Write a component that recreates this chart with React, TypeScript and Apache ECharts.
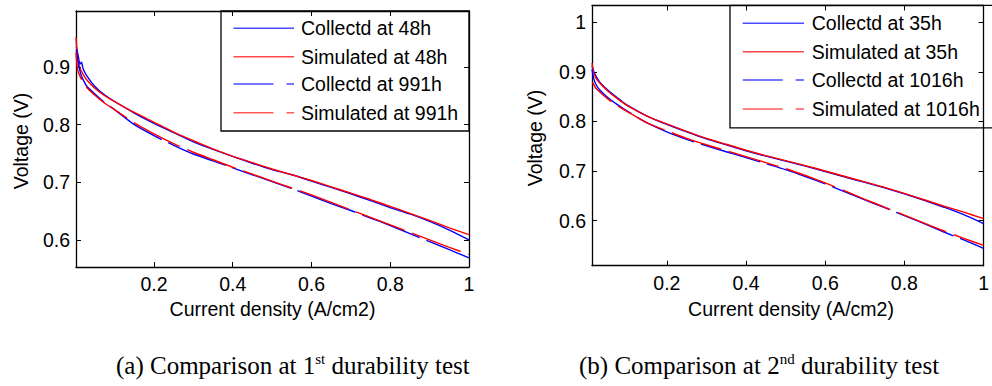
import { useEffect, useRef } from "react";
import * as echarts from "echarts";

// ---------- data ----------
const xTicks = [0.2, 0.4, 0.6, 0.8, 1];
const yTicksA = [0.6, 0.7, 0.8, 0.9];
const yTicksB = [0.6, 0.7, 0.8, 0.9, 1];

const namesA = ["Collectd at 48h", "Simulated at 48h", "Collectd at 991h", "Simulated at 991h"];
const namesB = ["Collectd at 35h", "Simulated at 35h", "Collectd at 1016h", "Simulated at 1016h"];

const captionA = ["(a) Comparison at 1", "st", " durability test"];
const captionB = ["(b) Comparison at 2", "nd", " durability test"];
const xName = "Current density (A/cm2)";
const yName = "Voltage (V)";

// test 1 (left)
const collected48 = [
  [0.003, 0.935], [0.008, 0.918], [0.012, 0.905], [0.016, 0.908], [0.02, 0.897], [0.03, 0.884],
  [0.05, 0.866], [0.075, 0.851], [0.1, 0.84], [0.15, 0.82], [0.2, 0.802], [0.25, 0.786],
  [0.3, 0.77], [0.35, 0.757], [0.4, 0.745], [0.45, 0.733], [0.5, 0.722], [0.55, 0.713],
  [0.6, 0.702], [0.65, 0.691], [0.7, 0.68], [0.75, 0.668], [0.8, 0.656], [0.85, 0.645],
  [0.9, 0.632], [0.95, 0.617], [1, 0.6],
];
const simulated48 = [
  [0.002, 0.952], [0.006, 0.915], [0.012, 0.898], [0.02, 0.887], [0.03, 0.877], [0.05, 0.863],
  [0.075, 0.85], [0.1, 0.84], [0.15, 0.821], [0.2, 0.804], [0.25, 0.787], [0.3, 0.772],
  [0.35, 0.758], [0.4, 0.745], [0.45, 0.734], [0.5, 0.723], [0.55, 0.713], [0.6, 0.703],
  [0.65, 0.692], [0.7, 0.681], [0.75, 0.67], [0.8, 0.658], [0.85, 0.646], [0.9, 0.634],
  [0.95, 0.621], [1, 0.609],
];
const collected991 = [
  [0.003, 0.93], [0.008, 0.905], [0.014, 0.888], [0.02, 0.878], [0.03, 0.866], [0.05, 0.853],
  [0.075, 0.838], [0.1, 0.826], [0.15, 0.8], [0.2, 0.781], [0.25, 0.764], [0.3, 0.749],
  [0.35, 0.737], [0.4, 0.725], [0.45, 0.713], [0.5, 0.701], [0.55, 0.689], [0.6, 0.676],
  [0.65, 0.663], [0.7, 0.651], [0.75, 0.638], [0.8, 0.625], [0.85, 0.611], [0.9, 0.597],
  [0.95, 0.583], [1, 0.569],
];
const simulated991 = [
  [0.002, 0.925], [0.006, 0.895], [0.012, 0.884], [0.02, 0.874], [0.03, 0.864], [0.05, 0.851],
  [0.075, 0.837], [0.1, 0.826], [0.15, 0.803], [0.2, 0.784], [0.25, 0.767], [0.3, 0.752],
  [0.35, 0.739], [0.4, 0.726], [0.45, 0.714], [0.5, 0.702], [0.55, 0.69], [0.6, 0.678],
  [0.65, 0.665], [0.7, 0.652], [0.75, 0.639], [0.8, 0.626], [0.85, 0.613], [0.9, 0.6],
  [0.95, 0.587], [1, 0.575],
];

// test 2 (right)
const collected35 = [
  [0.011, 0.912], [0.015, 0.902], [0.02, 0.893], [0.03, 0.88], [0.05, 0.864], [0.075, 0.848],
  [0.1, 0.833], [0.15, 0.811], [0.2, 0.794], [0.25, 0.779], [0.3, 0.765], [0.35, 0.753],
  [0.4, 0.741], [0.45, 0.73], [0.5, 0.72], [0.55, 0.71], [0.6, 0.699], [0.65, 0.688],
  [0.7, 0.677], [0.75, 0.666], [0.8, 0.654], [0.85, 0.641], [0.9, 0.627], [0.95, 0.612],
  [1, 0.594],
];
const simulated35 = [
  [0.011, 0.918], [0.015, 0.9], [0.02, 0.889], [0.03, 0.878], [0.05, 0.862], [0.075, 0.846],
  [0.1, 0.832], [0.15, 0.811], [0.2, 0.795], [0.25, 0.78], [0.3, 0.766], [0.35, 0.754],
  [0.4, 0.742], [0.45, 0.731], [0.5, 0.721], [0.55, 0.711], [0.6, 0.7], [0.65, 0.689],
  [0.7, 0.678], [0.75, 0.667], [0.8, 0.655], [0.85, 0.642], [0.9, 0.629], [0.95, 0.617],
  [1, 0.604],
];
const collected1016 = [
  [0.011, 0.905], [0.015, 0.888], [0.02, 0.876], [0.03, 0.864], [0.05, 0.849], [0.075, 0.834],
  [0.1, 0.821], [0.15, 0.797], [0.2, 0.779], [0.25, 0.764], [0.3, 0.751], [0.35, 0.739],
  [0.4, 0.727], [0.45, 0.715], [0.5, 0.703], [0.55, 0.689], [0.6, 0.674], [0.65, 0.658],
  [0.7, 0.642], [0.75, 0.626], [0.8, 0.61], [0.85, 0.594], [0.9, 0.577], [0.95, 0.561],
  [1, 0.544],
];
const simulated1016 = [
  [0.012, 0.88], [0.02, 0.868], [0.03, 0.86], [0.05, 0.846], [0.075, 0.832], [0.1, 0.82],
  [0.15, 0.797], [0.2, 0.781], [0.25, 0.766], [0.3, 0.753], [0.35, 0.741], [0.4, 0.729],
  [0.45, 0.717], [0.5, 0.705], [0.55, 0.691], [0.6, 0.676], [0.65, 0.66], [0.7, 0.643],
  [0.75, 0.627], [0.8, 0.611], [0.85, 0.595], [0.9, 0.579], [0.95, 0.564], [1, 0.55],
];

// ---------- styles ----------
const BLUE = "#0000ff";
const RED = "#ff0000";
const SANS = '"Liberation Sans", Arial, Helvetica, sans-serif';
const SERIF = '"Liberation Serif", "Times New Roman", serif';
const FS = 19.5;

const panels = [
  {
    grid: { left: 76, top: 11, width: 393, height: 256 },
    xMin: 0.002, xMax: 1, yMin: 0.553, yMax: 0.997, yTicks: yTicksA,
    names: namesA,
    data: [collected48, simulated48, collected991, simulated991],
    legend: { x: 221, y: 11, w: 248, h: 120, lineX: 233.5, lineW: 60.5, textX: 301, rows: [28.3, 56.7, 84, 112.7] },
    caption: captionA, captionX: 116,
    yLabelX: 21, yLabelY: 141, xLabelX: 272.5,
  },
  {
    grid: { left: 592, top: 5.5, width: 398.3, height: 260.2 },
    xMin: 0.011, xMax: 1, yMin: 0.509, yMax: 1.034, yTicks: yTicksB,
    names: namesB,
    data: [collected35, simulated35, collected1016, simulated1016],
    legend: { x: 730, y: 5.3, w: 280, h: 122.5, lineX: 742.7, lineW: 61.3, textX: 811.7, rows: [23.3, 51.7, 80, 109] },
    caption: captionB, captionX: 579,
    yLabelX: 535, yLabelY: 138, xLabelX: 791,
  },
];

const seriesLooks = [
  { color: BLUE, dash: "solid" as any, offset: 0 },
  { color: RED, dash: "solid" as any, offset: 0 },
  { color: BLUE, dash: [62, 7], offset: 0 },
  { color: RED, dash: [52, 8], offset: 24 },
];
const legendLooks = [
  { color: "#4a4aff", dash: null },
  { color: "#ff4a4a", dash: null },
  { color: "#4a4aff", dash: [40, 13] },
  { color: "#ff5a5a", dash: [40, 13] },
];

const fmt = (v: number) => String(Math.round(v * 10) / 10);

export default function App() {
  const ref = useRef<HTMLDivElement>(null);
  useEffect(() => {
    if (!ref.current) return;
    const chart = echarts.init(ref.current, undefined, { renderer: "svg" });

    const grids: any[] = [];
    const xAxes: any[] = [];
    const yAxes: any[] = [];
    const series: any[] = [];
    const graphics: any[] = [];

    panels.forEach((p, gi) => {
      grids.push({ ...p.grid, containLabel: false, show: false });
      const lineStyle = { color: "#000", width: 1.3 };
      const baseX = {
        gridIndex: gi, type: "value", min: p.xMin, max: p.xMax,
        axisLine: { show: true, onZero: false, lineStyle },
        axisTick: { show: true, inside: true, length: 5, customValues: xTicks, lineStyle: { color: "#000", width: 1 } },
        splitLine: { show: false },
      };
      xAxes.push({
        ...baseX, position: "bottom",
        axisLabel: { show: true, customValues: xTicks, formatter: fmt, color: "#000", fontSize: FS, fontFamily: SANS, margin: 7 },
      });
      xAxes.push({ ...baseX, position: "top", axisLabel: { show: false } });
      const baseY = {
        gridIndex: gi, type: "value", min: p.yMin, max: p.yMax,
        axisLine: { show: true, onZero: false, lineStyle },
        axisTick: { show: true, inside: true, length: 5, customValues: p.yTicks, lineStyle: { color: "#000", width: 1 } },
        splitLine: { show: false },
      };
      yAxes.push({
        ...baseY, position: "left",
        axisLabel: { show: true, customValues: p.yTicks, formatter: fmt, color: "#000", fontSize: FS, fontFamily: SANS, margin: 6 },
      });
      yAxes.push({ ...baseY, position: "right", axisLabel: { show: false } });

      p.data.forEach((d, si) => {
        const look = seriesLooks[si];
        series.push({
          type: "line", name: p.names[si], data: d,
          xAxisIndex: gi * 2, yAxisIndex: gi * 2,
          symbol: "none", showSymbol: false, smooth: 0.2, silent: true,
          lineStyle: { color: look.color, width: 1.4, type: look.dash, dashOffset: look.offset },
          z: 2 + si,
        });
      });

      // legend box
      const L = p.legend;
      const children: any[] = [
        { type: "rect", shape: { x: L.x, y: L.y, width: L.w, height: L.h }, style: { fill: "#fff", stroke: "#000", lineWidth: 1.3 } },
      ];
      p.names.forEach((n, i) => {
        const lk = legendLooks[i];
        children.push({
          type: "line",
          shape: { x1: L.lineX, y1: L.rows[i], x2: L.lineX + L.lineW, y2: L.rows[i] },
          style: { stroke: lk.color, lineWidth: 1.4, lineDash: lk.dash || undefined },
        });
        children.push({
          type: "text", x: L.textX, y: L.rows[i],
          style: { text: n, fill: "#000", fontSize: FS, fontFamily: SANS, align: "left", verticalAlign: "middle" },
        });
      });
      graphics.push({ type: "group", z: 100, children });

      // axis titles
      graphics.push({
        type: "text", x: p.yLabelX, y: p.yLabelY, rotation: Math.PI / 2, z: 100,
        style: { text: yName, fill: "#000", fontSize: FS, fontFamily: SANS, align: "center", verticalAlign: "middle" },
      });
      graphics.push({
        type: "text", x: p.xLabelX, y: 309, z: 100,
        style: { text: xName, fill: "#000", fontSize: FS, fontFamily: SANS, align: "center", verticalAlign: "middle" },
      });
      // caption
      graphics.push({
        type: "text", x: p.captionX, y: 365, z: 100,
        style: {
          text: `{a|${p.caption[0]}}{s|${p.caption[1]}}{a|${p.caption[2]}}`,
          align: "left", verticalAlign: "middle",
          rich: {
            a: { fontSize: 25, fontFamily: SERIF, fill: "#000", lineHeight: 28 },
            s: { fontSize: 15, fontFamily: SERIF, fill: "#000", verticalAlign: "top", lineHeight: 15 },
          },
        },
      });
    });

    chart.setOption({
      animation: false,
      backgroundColor: "#fff",
      textStyle: { fontFamily: SANS },
      grid: grids,
      xAxis: xAxes,
      yAxis: yAxes,
      series,
      graphic: graphics,
    });
    return () => chart.dispose();
  }, []);
  return (
    <div
      ref={ref}
      style={{ position: "fixed", left: 0, top: 0, width: 992, height: 386, background: "#fff" }}
    />
  );
}
